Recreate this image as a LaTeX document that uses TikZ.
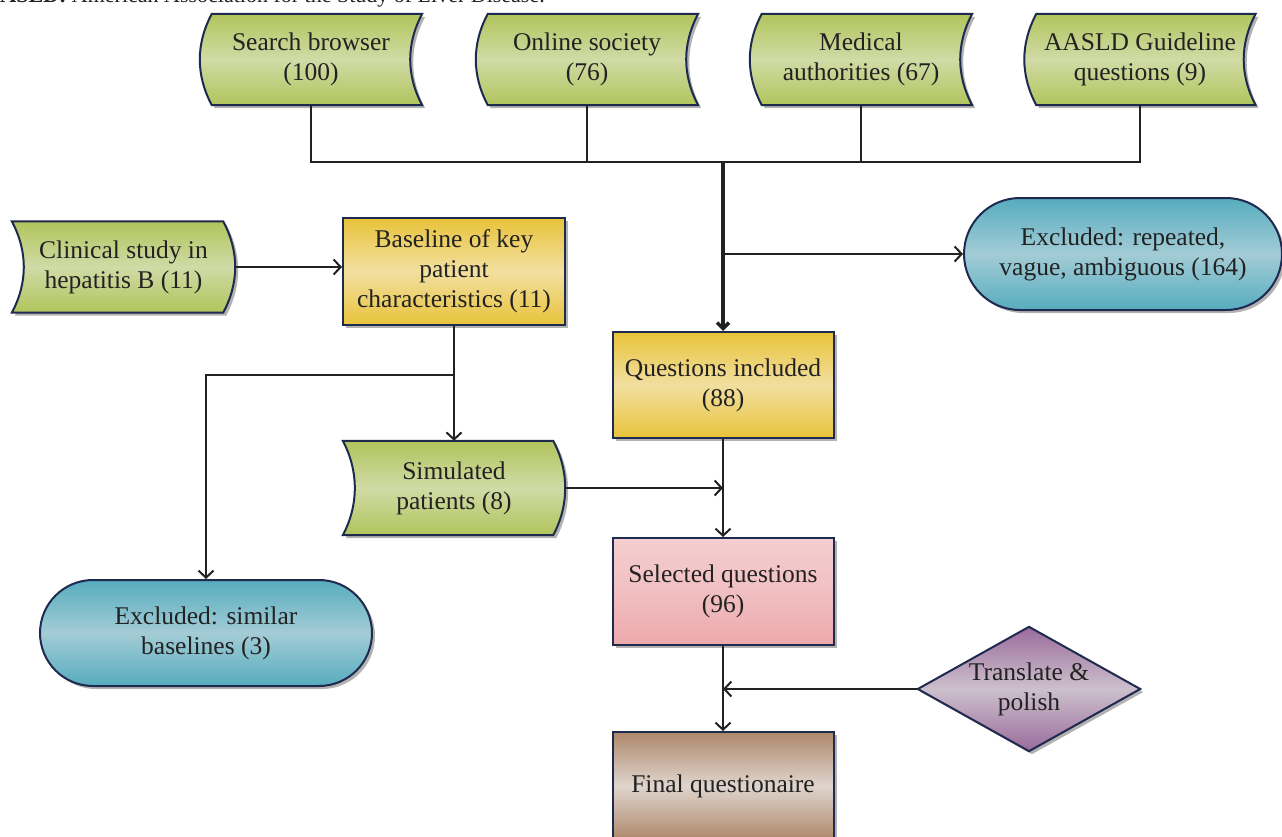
\documentclass[tikz,border=0pt]{standalone}
\usepackage{fontspec}
\setmainfont{Liberation Serif}
\usetikzlibrary{arrows.meta,shapes.geometric,shadows,backgrounds,calc}
\definecolor{edge}{HTML}{1F2A4F}
\definecolor{gtop}{HTML}{B1C45B}
\definecolor{gmid}{HTML}{D0DBA6}
\definecolor{ytop}{HTML}{E8C33A}
\definecolor{ymid}{HTML}{F2DFA0}
\definecolor{btop}{HTML}{56ACBE}
\definecolor{bmid}{HTML}{A3CCD6}
\definecolor{ptop}{HTML}{F5CED0}
\definecolor{pmid}{HTML}{F1BFC1}
\definecolor{pbot}{HTML}{ECA9AC}
\definecolor{brtop}{HTML}{AD886B}
\definecolor{brmid}{HTML}{E0D4CD}
\definecolor{putop}{HTML}{9A6B9B}
\definecolor{pumid}{HTML}{CCC0CD}
\definecolor{ink}{HTML}{222222}
\tikzset{
  txt/.style={font=\fontsize{25.5}{30}\selectfont, align=center, text=ink, inner sep=0pt},
  myshadow/.style={drop shadow={shadow xshift=3pt, shadow yshift=-3pt, opacity=0.3, fill=black}},
  box/.style={txt, draw=edge, line width=2pt, minimum width=221pt, minimum height=106pt, myshadow},
  sd/.style={txt, minimum width=222pt, minimum height=91pt},
  outline/.style={draw=edge, line width=2pt, myshadow},
  greenfill/.style={top color=gtop, bottom color=gtop, middle color=gmid},
  yellowfill/.style={top color=ytop, bottom color=ytop, middle color=ymid},
  bluefill/.style={top color=btop, bottom color=btop, middle color=bmid},
  pinkfill/.style={top color=ptop, bottom color=pbot, middle color=pmid},
  brownfill/.style={top color=brtop, bottom color=brtop, middle color=brmid},
  purplefill/.style={top color=putop, bottom color=putop, middle color=pumid},
  conn/.style={line width=2pt, draw=ink},
  arr/.style={conn, -{Straight Barb[length=7pt,width=15pt]}},
}
% stored-data shape whose sides bow to the left
\newcommand\sdleft[2]{%
  \begin{scope}[on background layer]
    \path[#2, outline]
      ($(#1.north west)+(12,0)$) -- (#1.north east)
      .. controls ($(#1.north east)+(-16,30)$) and ($(#1.south east)+(-16,-30)$) .. (#1.south east)
      -- ($(#1.south west)+(12,0)$)
      .. controls ($(#1.south west)+(-4,-30)$) and ($(#1.north west)+(-4,30)$) .. cycle;
  \end{scope}}
% stored-data shape whose sides bow to the right
\newcommand\sdright[2]{%
  \begin{scope}[on background layer]
    \path[#2, outline]
      (#1.north west) -- ($(#1.north east)+(-12,0)$)
      .. controls ($(#1.north east)+(4,30)$) and ($(#1.south east)+(4,-30)$) .. ($(#1.south east)+(-12,0)$)
      -- (#1.south west)
      .. controls ($(#1.south west)+(16,-30)$) and ($(#1.north west)+(16,30)$) .. cycle;
  \end{scope}}
\begin{document}
\begin{tikzpicture}[x=1pt,y=-1pt]
\useasboundingbox (0,0) rectangle (1282,836);

% cut-off caption
\node[font=\fontsize{22}{26}\selectfont, text=ink, inner sep=0pt, anchor=base east] (cap) at (545,2.5)
  {\textbf{AASLD:} American Association for the Study of Liver Disease.};

% top sources
\node[sd] (sb) at (311,59.5) {Search browser\\(100)};
\node[sd] (os) at (587,59.5) {Online society\\(76)};
\node[sd] (ma) at (861,59.5) {Medical\\authorities (67)};
\node[sd, minimum width=231pt] (aa) at (1140,59.5) {AASLD Guideline\\questions (9)};
\sdleft{sb}{greenfill}
\sdleft{os}{greenfill}
\sdleft{ma}{greenfill}
\sdleft{aa}{greenfill}

% left column
\node[sd, minimum width=223pt] (cs) at (123.5,267) {Clinical study in\\hepatitis B (11)};
\sdright{cs}{greenfill}
\node[box, yellowfill, minimum width=222pt, minimum height=107pt] (bl) at (454,271.5) {Baseline of key\\patient\\characteristics (11)};
\node[sd, minimum height=94pt] (sp) at (454,488) {Simulated\\patients (8)};
\sdright{sp}{greenfill}
\node[box, bluefill, minimum width=332pt, rounded corners=53pt] (es) at (206,633) {Excluded: similar\\baselines (3)};

% centre column
\node[box, yellowfill] (qi) at (723,385) {Questions included\\(88)};
\node[box, pinkfill, minimum height=107pt] (sel) at (723,591.5) {Selected questions\\(96)};
\node[box, brownfill, minimum height=108pt] (fq) at (723,786) {Final questionaire};

% right side
\node[box, bluefill, minimum width=318pt, minimum height=112pt, rounded corners=56pt] (ex) at (1123,254) {Excluded: repeated,\\vague, ambiguous (164)};
\node[txt, minimum width=222pt, minimum height=124pt] (tp) at (1029,689) {Translate \&\\polish};
\begin{scope}[on background layer]
  \path[purplefill, outline] (tp.west) -- (tp.north) -- (tp.east) -- (tp.south) -- cycle;
\end{scope}

% connectors
\coordinate (j) at (723,162);
\draw[conn] (sb.south) |- (j) -| (aa.south);
\draw[conn] (os.south) |- (j);
\draw[conn] (ma.south) |- (j);
\draw[conn, line width=3.5pt, -{Straight Barb[length=6pt,width=12pt]}] (j) -- (qi.north);
\draw[arr] (j |- ex.west) -- (ex.west);
\draw[arr] (cs.east) -- (cs.east -| bl.west);
\coordinate (k) at (bl.south |- 0,375);
\draw[arr] (bl.south) -- (sp.north);
\draw[arr] (k) -| (es.north);
\draw[arr] (sp.east) -- (sp.east -| qi.south);
\draw[arr] (qi.south) -- (sel.north);
\draw[arr] (sel.south) -- (fq.north);
\draw[arr] (tp.west) -- (tp.west -| sel.south);
\end{tikzpicture}
\end{document}
